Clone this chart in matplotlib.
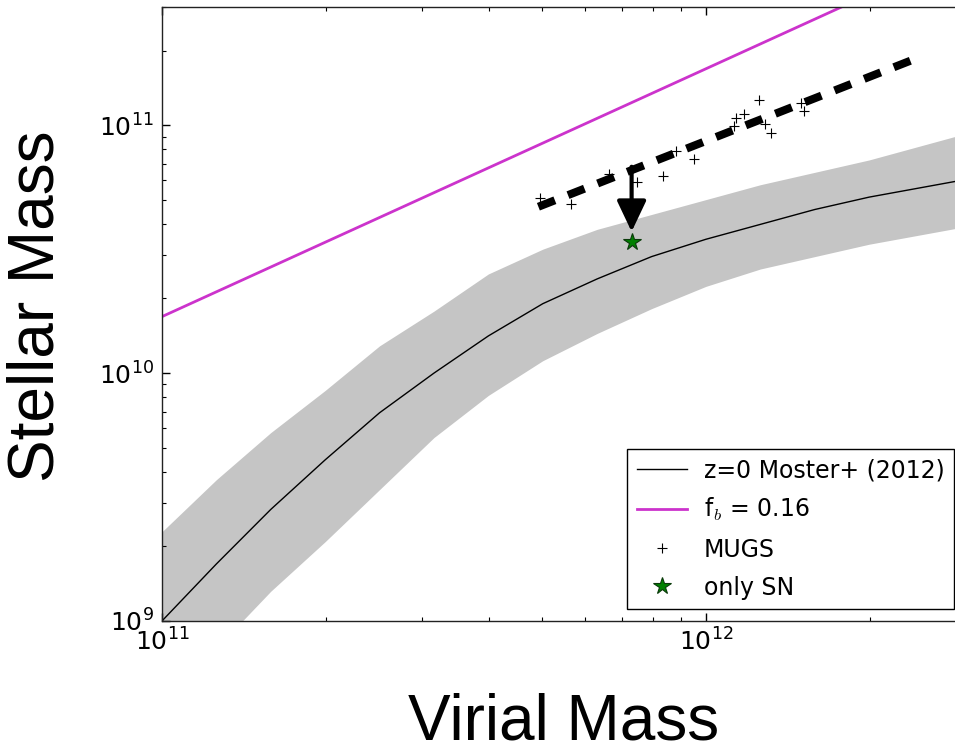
import numpy as np
import matplotlib
matplotlib.use('Agg')
import matplotlib.pyplot as plt

plt.rcParams['font.family'] = 'DejaVu Sans'
plt.rcParams['mathtext.fontset'] = 'cm'

# Moster+ (2012) z=0 relation and its band (log10 of masses)
log_mvir = [11.0, 11.1, 11.2, 11.3, 11.4, 11.5, 11.6, 11.7,
            11.8, 11.9, 12.0, 12.1, 12.2, 12.3, 12.4, 12.5]
log_mstar = [9.00, 9.23, 9.45, 9.65, 9.84, 10.00, 10.15, 10.28,
             10.38, 10.47, 10.54, 10.60, 10.66, 10.71, 10.75, 10.79]
log_band_hi = [9.36, 9.57, 9.76, 9.93, 10.11, 10.25, 10.40, 10.50,
               10.58, 10.64, 10.70, 10.76, 10.81, 10.86, 10.92, 10.98]
log_band_lo = [8.67, 8.89, 9.12, 9.32, 9.53, 9.74, 9.91, 10.05,
               10.16, 10.26, 10.35, 10.42, 10.47, 10.52, 10.56, 10.60]

# baryon fraction line (end points)
fb_mvir = [1e11, 3e12]
fb_mstar = [1.69e10, 5.07e11]

# MUGS galaxies
mugs_mvir = [4.95e11, 5.66e11, 6.64e11, 7.48e11, 8.32e11, 8.81e11, 9.51e11, 1.127e12,
             1.135e12, 1.175e12, 1.250e12, 1.282e12, 1.315e12, 1.493e12, 1.514e12]
mugs_mstar = [5.09e10, 4.80e10, 6.38e10, 5.90e10, 6.22e10, 7.85e10, 7.34e10, 9.93e10,
              1.074e11, 1.107e11, 1.262e11, 1.007e11, 9.31e10, 1.225e11, 1.138e11]

# fit through MUGS (end points)
fit_mvir = [4.92e11, 2.39e12]
fit_mstar = [4.69e10, 1.83e11]

# only-SN run and the arrow pointing at it
sn_mvir = [7.30e11]
sn_mstar = [3.38e10]
arrow_from = 6.8e10
arrow_to = 3.72e10

mvir = 10 ** np.array(log_mvir)

fig = plt.figure(figsize=(9.55, 7.42), dpi=100)
ax = fig.add_axes([0.1696, 0.1631, 0.8414, 0.8275])

ax.fill_between(mvir, 10 ** np.array(log_band_lo), 10 ** np.array(log_band_hi),
                color='#c5c5c5', lw=0, zorder=1)
ax.plot(mvir, 10 ** np.array(log_mstar), color='k', lw=1.0, zorder=2,
        label='z=0 Moster+ (2012)')
ax.plot(fb_mvir, fb_mstar, color='#cc33cc', lw=2.0, zorder=2, label='f$_b$ = 0.16')
ax.plot(mugs_mvir, mugs_mstar, ls='none', marker='+', ms=7, mew=0.8, color='k',
        zorder=3, label='MUGS')
ax.plot(fit_mvir, fit_mstar, color='k', lw=5.8, ls=(0, (2.2, 1.75)),
        solid_capstyle='butt', dash_capstyle='butt', zorder=4)
ax.annotate('', xy=(sn_mvir[0], arrow_to), xytext=(sn_mvir[0], arrow_from),
            arrowprops=dict(arrowstyle='-|>,head_length=0.95,head_width=0.45',
                            color='k', lw=3, mutation_scale=20,
                            shrinkA=0, shrinkB=0), zorder=5)
ax.plot(sn_mvir, sn_mstar, ls='none', marker='*', ms=13, color='green',
        mec='#0a3a0a', mew=0.8, zorder=6, label='only SN')

ax.set_xscale('log')
ax.set_yscale('log')
ax.set_xlim(1e11, 3e12)
ax.set_ylim(1e9, 3e11)

ax.tick_params(which='both', direction='in', top=True, right=True, labelsize=18)
ax.tick_params(which='major', length=6, width=1)
ax.tick_params(which='minor', length=3, width=0.8)
ax.tick_params(axis='x', pad=5)
ax.tick_params(axis='y', pad=6)
for sp in ax.spines.values():
    sp.set_linewidth(1.0)
    sp.set_color('#222222')

leg = ax.legend(loc='lower right', fontsize=17, numpoints=1, fancybox=False,
                framealpha=1, edgecolor='black', handlelength=2.1,
                handletextpad=0.72, labelspacing=0.6, borderaxespad=0.5)
leg.get_frame().set_linewidth(1.0)

fig.text(564 / 955, 1 - 739.5 / 742, 'Virial Mass', family='Liberation Sans',
         fontsize=46, ha='center', va='baseline')
fig.text(37 / 955, 1 - 306 / 742, 'Stellar Mass', family='Liberation Sans',
         fontsize=46, ha='center', va='center', rotation=90)

fig.savefig('out.png', dpi=100)
